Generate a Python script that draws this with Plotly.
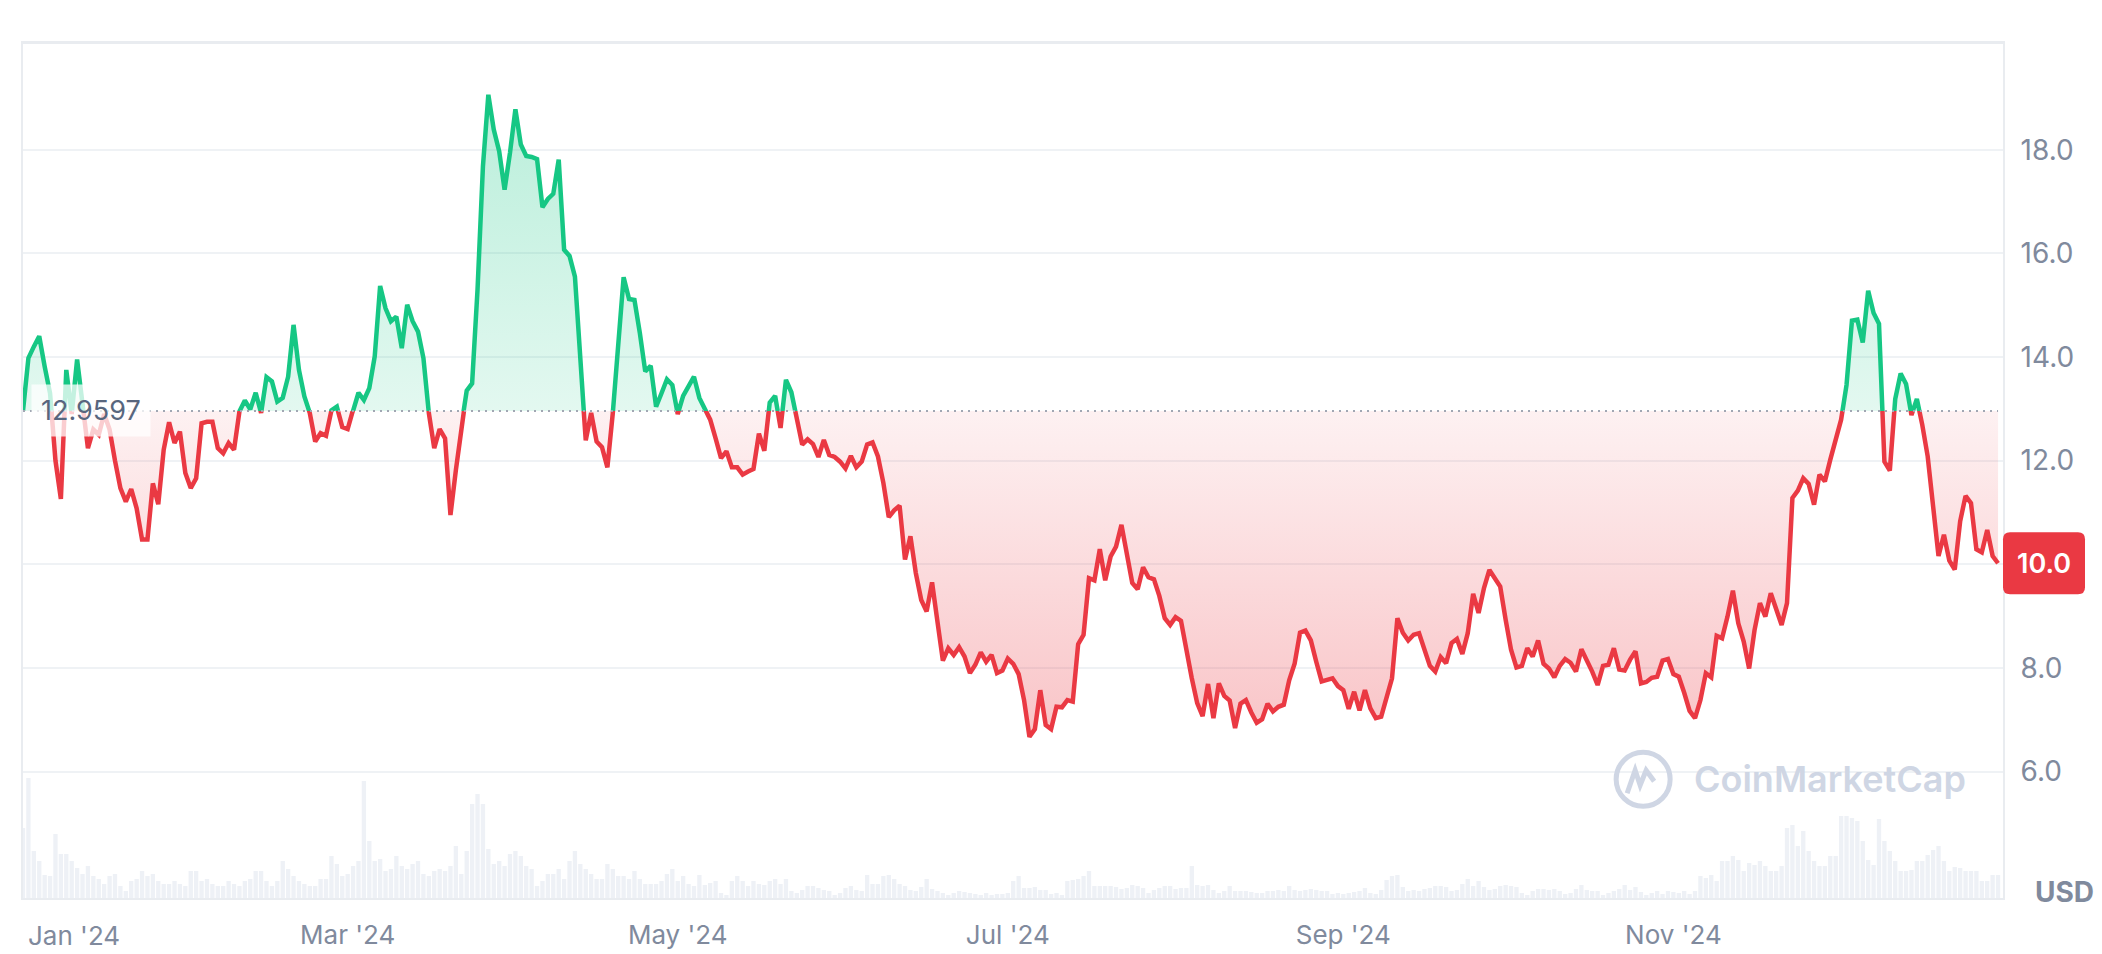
import pandas as pd
import plotly.graph_objects as go

# ── Data (daily, 2024-01-01 .. 2024-12-31) ────────────────────────────────
START_DATE = "2024-01-01"
BASE_PRICE = 12.9597

PRICE = [
    12.96, 13.98, 14.20, 14.40, 13.82, 13.30, 12.00, 11.26, 13.75, 12.90,
    13.95, 13.00, 12.24, 12.60, 12.50, 12.90, 12.60, 12.00, 11.47, 11.21,
    11.45, 11.08, 10.48, 10.48, 11.56, 11.16, 12.21, 12.74, 12.34, 12.56,
    11.76, 11.47, 11.66, 12.72, 12.75, 12.75, 12.24, 12.14, 12.34, 12.21,
    12.95, 13.16, 12.99, 13.31, 12.92, 13.61, 13.53, 13.14, 13.21, 13.62,
    14.62, 13.75, 13.24, 12.92, 12.37, 12.53, 12.48, 12.97, 13.04, 12.65,
    12.61, 12.98, 13.31, 13.17, 13.40, 14.01, 15.37, 14.94, 14.69, 14.78,
    14.17, 15.01, 14.69, 14.49, 13.98, 12.92, 12.24, 12.61, 12.43, 10.95,
    11.82, 12.66, 13.35, 13.49, 15.30, 17.68, 19.06, 18.39, 17.97, 17.23,
    17.94, 18.78, 18.10, 17.88, 17.86, 17.82, 16.89, 17.05, 17.15, 17.81,
    16.07, 15.95, 15.55, 13.90, 12.39, 12.92, 12.37, 12.26, 11.87, 12.92,
    14.30, 15.54, 15.12, 15.10, 14.46, 13.72, 13.83, 13.04, 13.30, 13.57,
    13.46, 12.90, 13.25, 13.45, 13.62, 13.21, 13.01, 12.79, 12.43, 12.05,
    12.18, 11.87, 11.87, 11.73, 11.79, 11.84, 12.52, 12.19, 13.12, 13.25,
    12.63, 13.56, 13.32, 12.85, 12.31, 12.41, 12.32, 12.07, 12.40, 12.11,
    12.07, 11.98, 11.85, 12.09, 11.87, 11.98, 12.31, 12.35, 12.08, 11.57,
    10.91, 11.04, 11.13, 10.09, 10.54, 9.83, 9.31, 9.09, 9.65, 8.89,
    8.14, 8.38, 8.25, 8.40, 8.22, 7.90, 8.06, 8.30, 8.12, 8.25,
    7.90, 7.95, 8.18, 8.08, 7.88, 7.38, 6.67, 6.82, 7.57, 6.90,
    6.82, 7.25, 7.24, 7.38, 7.35, 8.46, 8.64, 9.73, 9.69, 10.29,
    9.69, 10.15, 10.34, 10.76, 10.20, 9.64, 9.52, 9.94, 9.75, 9.71,
    9.39, 8.96, 8.83, 8.98, 8.91, 8.33, 7.80, 7.32, 7.07, 7.69,
    7.03, 7.70, 7.46, 7.37, 6.84, 7.31, 7.38, 7.14, 6.94, 7.01,
    7.31, 7.16, 7.25, 7.29, 7.76, 8.08, 8.68, 8.72, 8.53, 8.12,
    7.74, 7.77, 7.80, 7.65, 7.57, 7.21, 7.54, 7.18, 7.57, 7.22,
    7.03, 7.06, 7.41, 7.80, 8.96, 8.68, 8.53, 8.64, 8.67, 8.35,
    8.04, 7.93, 8.21, 8.09, 8.48, 8.56, 8.27, 8.67, 9.43, 9.06,
    9.54, 9.89, 9.71, 9.57, 8.93, 8.35, 8.01, 8.04, 8.38, 8.22,
    8.53, 8.08, 7.99, 7.82, 8.04, 8.17, 8.10, 7.93, 8.36, 8.16,
    7.93, 7.67, 8.04, 8.06, 8.38, 7.97, 7.95, 8.16, 8.32, 7.70,
    7.73, 7.81, 7.83, 8.14, 8.17, 7.88, 7.83, 7.52, 7.17, 7.03,
    7.38, 7.90, 7.82, 8.62, 8.57, 8.99, 9.49, 8.86, 8.51, 7.99,
    8.73, 9.25, 8.99, 9.44, 9.12, 8.83, 9.25, 11.28, 11.42, 11.66,
    11.55, 11.15, 11.73, 11.60, 12.02, 12.43, 12.79, 13.46, 14.70, 14.72,
    14.28, 15.28, 14.85, 14.64, 11.98, 11.81, 13.19, 13.68, 13.48, 12.88,
    13.19, 12.69, 12.08, 11.05, 10.16, 10.57, 10.07, 9.90, 10.83, 11.32,
    11.18, 10.29, 10.23, 10.66, 10.16, 10.02,
]

# relative daily volume (arbitrary units, read as bar heights)
VOLUME = [
    70, 120, 47, 37, 23, 22, 64, 44, 44, 37,
    30, 24, 32, 22, 19, 14, 22, 24, 12, 7,
    17, 19, 27, 22, 24, 17, 14, 14, 17, 14,
    12, 27, 27, 17, 19, 14, 12, 12, 17, 14,
    12, 17, 19, 27, 27, 17, 12, 17, 37, 29,
    22, 17, 14, 12, 12, 19, 19, 42, 34, 22,
    24, 32, 37, 117, 57, 37, 39, 27, 29, 42,
    32, 29, 34, 37, 24, 22, 27, 29, 27, 32,
    52, 24, 47, 94, 104, 94, 49, 34, 37, 32,
    44, 47, 42, 32, 29, 12, 17, 24, 24, 29,
    19, 37, 47, 34, 29, 24, 19, 19, 34, 29,
    22, 22, 19, 27, 19, 14, 14, 14, 17, 24,
    29, 17, 22, 14, 12,
    23, 13, 15, 17, 5, 3, 17, 22, 17,
    12, 17, 14, 13, 17, 19, 14, 19, 7, 5,
    8, 12, 12, 10, 8, 7, 3, 5, 10, 12,
    8, 7, 23, 14, 14, 22, 23, 19, 14, 12,
    8, 7, 11, 19, 9, 7, 5, 3, 5, 7,
    6, 5, 4, 3, 5, 3, 4, 4, 5, 17,
    22, 10, 10, 11, 8, 8, 4, 5, 3, 17,
    18, 19, 22, 27, 12, 12, 12, 12, 11, 9,
    10, 13, 12, 10, 5, 8, 10, 12, 12, 9,
    10, 10, 32, 13, 12, 13, 8, 5, 7, 12,
    7, 7, 7, 6, 5, 5, 7, 7, 8, 7,
    12, 8, 7, 8, 9, 8, 7, 7, 4, 5,
    4, 5, 6, 7, 10, 5, 4, 8, 18, 22,
    23, 11, 7, 8, 7, 9, 10, 12, 12, 11,
    7, 8, 14, 19, 12, 17, 11, 8, 9, 12,
    13, 12, 11, 5, 3, 7, 9, 9, 8, 9,
    7, 4, 5, 9, 13, 8, 7, 7, 3, 5,
    7, 9, 13, 8, 11, 6, 3, 5, 7, 4,
    7, 6, 5, 7, 4, 7, 22, 20, 23, 17,
    37, 37, 42, 38, 27, 35, 33, 37, 32, 27,
    27, 32, 70, 73, 52, 67, 47, 37, 32, 32,
    42, 42, 82, 82, 80, 77, 57, 38, 33, 79,
    57, 47, 37, 27, 27, 28, 37, 37, 43, 48,
    52, 37, 27, 31, 30, 27, 27, 27, 17, 17,
    23, 23,
]

TICK_DATES = ["2024-03-01", "2024-05-01", "2024-07-01", "2024-09-01", "2024-11-01"]
TICK_TEXT = ["Mar '24", "May '24", "Jul '24", "Sep '24", "Nov '24"]
LOW_TICKS = [6, 8, 10, 12]
LOW_TEXT = ["6.0", "8.0", "", "12.0"]   # 10.0 sits under the last-price tag
HIGH_TICKS = [14, 16, 18]

# ── Style ────────────────────────────────────────────────────────────────
GREEN = "#16C784"
RED = "#EA3943"
GRID = "#EFF2F5"
BORDER = "#E9ECF0"
TICK_COLOR = "#808A9D"
FONT = "Inter"

Y_LO, Y_HI = 3.56, 20.04
X_RANGE = ["2024-01-01", "2024-12-31 22:00"]
SPLIT = (BASE_PRICE - Y_LO) / (Y_HI - Y_LO)   # domain fraction of baseline
VOL_AXIS_MAX = 487

dates = pd.date_range(START_DATE, periods=len(PRICE), freq="D")
vol_dates = pd.date_range(START_DATE, periods=len(VOLUME), freq="D")

fig = go.Figure()

# volume bars (bottom panel, own axis)
fig.add_trace(go.Bar(
    x=vol_dates, y=VOLUME, xaxis="x", yaxis="y3",
    marker=dict(color="#EEF1F6", line=dict(width=0)),
    hoverinfo="skip", showlegend=False,
))

# below-baseline part: red, filled up to the baseline
fig.add_trace(go.Scatter(
    x=dates, y=[BASE_PRICE] * len(dates), xaxis="x", yaxis="y",
    mode="lines", line=dict(width=0, color="rgba(0,0,0,0)"),
    hoverinfo="skip", showlegend=False,
))
fig.add_trace(go.Scatter(
    x=dates, y=PRICE, xaxis="x", yaxis="y",
    mode="lines", line=dict(color=RED, width=4.5),
    fill="tonexty",
    fillgradient=dict(
        type="vertical",
        colorscale=[[0, "rgba(234,57,67,0.30)"], [1, "rgba(234,57,67,0.07)"]],
        start=6.6, stop=BASE_PRICE,
    ),
    showlegend=False,
))

# above-baseline part: green, filled down to the baseline (clipped by panel)
fig.add_trace(go.Scatter(
    x=dates, y=PRICE, xaxis="x2", yaxis="y2",
    mode="lines", line=dict(color=GREEN, width=4.5),
    fill="tozeroy",
    fillgradient=dict(
        type="vertical",
        colorscale=[[0, "rgba(22,199,132,0.12)"], [1, "rgba(22,199,132,0.33)"]],
        start=BASE_PRICE, stop=Y_HI,
    ),
    showlegend=False,
))

y_tick_font = dict(family=FONT, size=28, color=TICK_COLOR)
x_tick_font = dict(family=FONT, size=26, color=TICK_COLOR)

fig.update_layout(
    width=2102, height=954,
    margin=dict(l=23, r=99, t=44, b=56),
    paper_bgcolor="white", plot_bgcolor="white",
    font=dict(family=FONT),
    bargap=0.2,
    showlegend=False,
    xaxis=dict(
        domain=[0, 1], anchor="y", type="date", range=X_RANGE,
        tickvals=TICK_DATES, ticktext=TICK_TEXT, tickfont=x_tick_font,
        ticks="", ticklabelstandoff=13, automargin=False,
        showgrid=False, zeroline=False,
        showline=True, linecolor=BORDER, linewidth=2,
    ),
    xaxis2=dict(
        domain=[0, 1], anchor="y2", matches="x", type="date", side="top",
        showticklabels=False, ticks="", showgrid=False, zeroline=False,
        automargin=False,
        showline=True, linecolor=BORDER, linewidth=3,
    ),
    yaxis=dict(
        domain=[0, SPLIT], range=[Y_LO, BASE_PRICE], side="right",
        tickvals=LOW_TICKS, ticktext=LOW_TEXT, tickfont=y_tick_font,
        ticks="", ticklabelstandoff=10, automargin=False,
        gridcolor=GRID, gridwidth=2, zeroline=False,
        showline=True, mirror=True, linecolor=BORDER, linewidth=2,
    ),
    yaxis2=dict(
        domain=[SPLIT, 1], range=[BASE_PRICE, Y_HI], side="right", anchor="x2",
        tickvals=HIGH_TICKS, tickformat=".1f", tickfont=y_tick_font,
        ticks="", ticklabelstandoff=10, automargin=False,
        gridcolor=GRID, gridwidth=2, zeroline=False,
        showline=True, mirror=True, linecolor=BORDER, linewidth=2,
    ),
    yaxis3=dict(
        overlaying="y", range=[0, VOL_AXIS_MAX], visible=False,
        showgrid=False, zeroline=False, automargin=False,
    ),
)

# dotted baseline at the opening price
fig.add_shape(
    type="line", xref="x", yref="paper",
    x0=dates[0], x1=dates[-1], y0=SPLIT, y1=SPLIT,
    line=dict(color="#A1A7B3", width=2, dash="2px,5px"),
    layer="above",
)

# baseline value label
fig.add_annotation(
    xref="paper", yref="paper", x=0, y=SPLIT,
    xanchor="left", yanchor="middle", xshift=8,
    text=f"{BASE_PRICE}", showarrow=False,
    font=dict(family=FONT, size=27, color="#58667E"),
    bgcolor="rgba(255,255,255,0.75)", borderpad=9,
)

# last price tag on the right
last = PRICE[-1]
fig.add_shape(
    type="path", xref="paper", yref="y",
    xsizemode="pixel", ysizemode="pixel", xanchor=1, yanchor=last,
    path="M 7,-31 L 75,-31 Q 82,-31 82,-24 L 82,24 Q 82,31 75,31 "
         "L 7,31 Q 0,31 0,24 L 0,-24 Q 0,-31 7,-31 Z",
    fillcolor=RED, line=dict(width=0), layer="above",
)
fig.add_annotation(
    xref="paper", yref="y", x=1, y=last,
    xanchor="center", yanchor="middle", xshift=41,
    text=f"{last:.1f}", showarrow=False,
    font=dict(family=FONT, size=27, color="white", weight=600),
)

# first month label, pinned to the left edge
fig.add_annotation(
    xref="x", yref="paper", x=dates[0], y=0,
    xanchor="left", yanchor="middle", xshift=3, yshift=-37,
    text="Jan '24", showarrow=False, font=x_tick_font,
)

# currency label
fig.add_annotation(
    xref="paper", yref="paper", x=1, y=0,
    xanchor="left", yanchor="middle", xshift=30, yshift=6,
    text="USD", showarrow=False,
    font=dict(family=FONT, size=28, color=TICK_COLOR, weight=700),
)

# watermark
WM = "#CFD6E4"
fig.add_annotation(
    xref="paper", yref="paper", x=0.843, y=0.139,
    xanchor="left", yanchor="middle",
    text="CoinMarketCap", showarrow=False,
    font=dict(family=FONT, size=36, color=WM, weight=600),
)
fig.add_shape(
    type="circle", xref="paper", yref="paper",
    xsizemode="pixel", ysizemode="pixel", xanchor=0.843, yanchor=0.139,
    x0=-76, x1=-22, y0=-27, y1=27,
    line=dict(color=WM, width=5), layer="above",
)
fig.add_shape(
    type="path", xref="paper", yref="paper",
    xsizemode="pixel", ysizemode="pixel", xanchor=0.843, yanchor=0.139,
    path="M -65,-14 L -57,9 L -52,-6 L -46,9 L -38,-2",
    line=dict(color=WM, width=5), layer="above",
)

# no default page margin, so the figure sits at the window's top-left corner
fig.write_html(
    "out.html",
    config={"displayModeBar": False},
    post_script="document.body.style.margin='0';",
)
